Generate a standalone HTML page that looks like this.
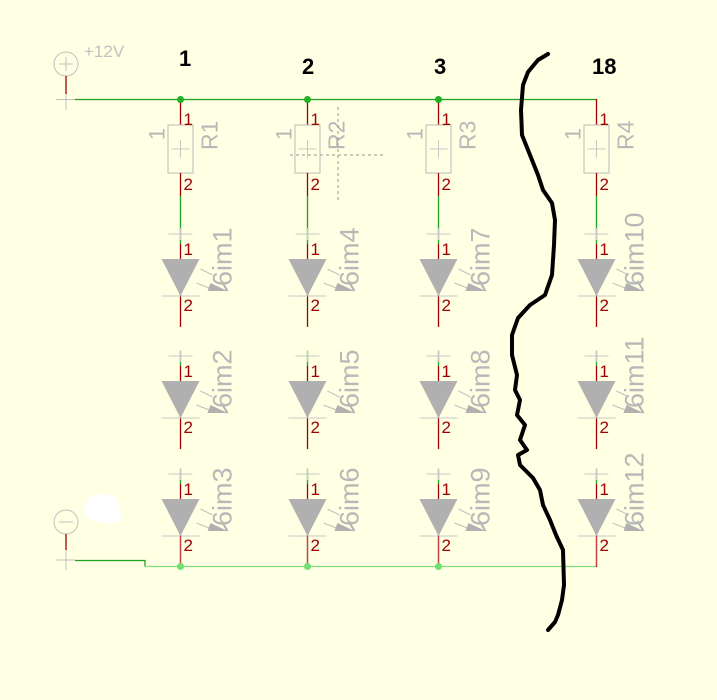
<!DOCTYPE html>
<html><head><meta charset="utf-8"><style>
html,body{margin:0;padding:0;background:#FFFFE3;}
svg{display:block;font-family:"Liberation Sans",sans-serif;}
</style></head><body>
<svg width="717" height="700" viewBox="0 0 717 700" xmlns="http://www.w3.org/2000/svg">
<defs>
<g id="col">
  <line x1="0" y1="99" x2="0" y2="125" stroke="#a00000" stroke-width="1.3"/>
  <rect x="-12.5" y="125" width="25" height="48" fill="none" stroke="#bbbbbb" stroke-width="1"/>
  <line x1="-9" y1="149" x2="9" y2="149" stroke="#c8c8c8"/>
  <line x1="0" y1="140" x2="0" y2="158" stroke="#c8c8c8"/>
  <line x1="0" y1="173" x2="0" y2="196" stroke="#a00000" stroke-width="1.3"/>
  <line x1="0" y1="196" x2="0" y2="230" stroke="#20a020" stroke-width="1.3"/>
  <text x="3" y="125" font-size="17" fill="#a00000">1</text>
  <text x="3" y="190" font-size="17" fill="#a00000">2</text>
  <text transform="translate(-16,134) rotate(-90)" font-size="22" fill="#b8b8b8" text-anchor="middle">1</text>
</g>
<g id="led">
  <line x1="0" y1="-30" x2="0" y2="-15" stroke="#20a020" stroke-width="1.3"/>
  <line x1="-12" y1="-25" x2="12" y2="-25" stroke="#c8c8c8"/>
  <line x1="0" y1="-31" x2="0" y2="-19" stroke="#c8c8c8"/>
  <line x1="0" y1="-15" x2="0" y2="68" stroke="#a00000" stroke-width="1.3"/>
  <polygon points="-19,0 19,0 0,37" fill="#b0b0b0"/>
  <line x1="-19" y1="37" x2="19" y2="37" stroke="#c8c8c8"/>
  <text x="3" y="-4" font-size="17" fill="#a00000">1</text>
  <text x="3" y="52" font-size="17" fill="#a00000">2</text>
  <line x1="20" y1="10" x2="32" y2="16" stroke="#c0c0c0"/>
  <line x1="16" y1="24" x2="34" y2="31" stroke="#c0c0c0"/>
  <polygon points="30,24 47,32 27,32" fill="#b0b0b0"/>
  <line x1="41" y1="22" x2="47" y2="32" stroke="#b0b0b0" stroke-width="2"/>
</g>
</defs>

<line x1="75" y1="99.5" x2="597" y2="99.5" stroke="#20a020" stroke-width="1.3"/>
<circle cx="66" cy="64" r="12" fill="none" stroke="#c0c0c0"/>
<line x1="59" y1="64" x2="73" y2="64" stroke="#c0c0c0"/>
<line x1="66" y1="57" x2="66" y2="71" stroke="#c0c0c0"/>
<line x1="66" y1="76" x2="66" y2="94" stroke="#a00000" stroke-width="1.3"/>
<line x1="56" y1="99.5" x2="75" y2="99.5" stroke="#c0c0c0"/>
<line x1="66" y1="94" x2="66" y2="110" stroke="#c0c0c0"/>
<text x="84" y="57" font-size="17" fill="#c0c0c0">+12V</text>

<circle cx="66" cy="522" r="12" fill="none" stroke="#c0c0c0"/>
<line x1="59" y1="522" x2="73" y2="522" stroke="#c0c0c0"/>
<line x1="66" y1="534" x2="66" y2="550" stroke="#a00000" stroke-width="1.3"/>
<line x1="56" y1="560" x2="75" y2="560" stroke="#c0c0c0"/>
<line x1="66" y1="550" x2="66" y2="570" stroke="#c0c0c0"/>
<path d="M88 500 Q92 492 104 495 Q118 493 120 505 L121 520 Q110 526 96 521 Q84 520 84 510 Z" fill="#ffffff"/>
<polyline points="75,560.5 145,560.5 145,566.5" fill="none" stroke="#20a020" stroke-width="1.3"/>
<line x1="145" y1="566.5" x2="597" y2="566.5" stroke="#80e080" stroke-width="1.3"/>

<g transform="translate(180.5,0)"><use href="#col"/>
  <text transform="translate(37,150) rotate(-90)" font-size="23" fill="#b8b8b8">R1</text>
  <use href="#led" transform="translate(0,259)"/><use href="#led" transform="translate(0,381)"/><use href="#led" transform="translate(0,499)"/>
  <line x1="0" y1="536" x2="0" y2="566" stroke="#cc4444" stroke-width="1.2"/>
  <text transform="translate(51,286) rotate(-90)" font-size="27" fill="#b8b8b8">6im1</text>
  <text transform="translate(51,408) rotate(-90)" font-size="27" fill="#b8b8b8">6im2</text>
  <text transform="translate(51,526) rotate(-90)" font-size="27" fill="#b8b8b8">6im3</text>
</g>
<g transform="translate(307.5,0)"><use href="#col"/>
  <text transform="translate(37,150) rotate(-90)" font-size="23" fill="#b8b8b8">R2</text>
  <use href="#led" transform="translate(0,259)"/><use href="#led" transform="translate(0,381)"/><use href="#led" transform="translate(0,499)"/>
  <line x1="0" y1="536" x2="0" y2="566" stroke="#cc4444" stroke-width="1.2"/>
  <text transform="translate(51,286) rotate(-90)" font-size="27" fill="#b8b8b8">6im4</text>
  <text transform="translate(51,408) rotate(-90)" font-size="27" fill="#b8b8b8">6im5</text>
  <text transform="translate(51,526) rotate(-90)" font-size="27" fill="#b8b8b8">6im6</text>
</g>
<line x1="290" y1="155" x2="383" y2="155" stroke="#999" stroke-dasharray="3,3"/>
<line x1="338" y1="107" x2="338" y2="203" stroke="#999" stroke-dasharray="3,3"/>
<g transform="translate(438.5,0)"><use href="#col"/>
  <text transform="translate(37,150) rotate(-90)" font-size="23" fill="#b8b8b8">R3</text>
  <use href="#led" transform="translate(0,259)"/><use href="#led" transform="translate(0,381)"/><use href="#led" transform="translate(0,499)"/>
  <line x1="0" y1="536" x2="0" y2="566" stroke="#cc4444" stroke-width="1.2"/>
  <text transform="translate(51,286) rotate(-90)" font-size="27" fill="#b8b8b8">6im7</text>
  <text transform="translate(51,408) rotate(-90)" font-size="27" fill="#b8b8b8">6im8</text>
  <text transform="translate(51,526) rotate(-90)" font-size="27" fill="#b8b8b8">6im9</text>
</g>
<g transform="translate(596.5,0)"><use href="#col"/>
  <text transform="translate(37,150) rotate(-90)" font-size="23" fill="#b8b8b8">R4</text>
  <use href="#led" transform="translate(0,259)"/><use href="#led" transform="translate(0,381)"/><use href="#led" transform="translate(0,499)"/>
  <line x1="0" y1="536" x2="0" y2="566" stroke="#cc4444" stroke-width="1.2"/>
  <text transform="translate(47,286) rotate(-90)" font-size="27" fill="#b8b8b8">6im10</text>
  <text transform="translate(47,408) rotate(-90)" font-size="27" fill="#b8b8b8">6im11</text>
  <text transform="translate(47,526) rotate(-90)" font-size="27" fill="#b8b8b8">6im12</text>
</g>

<circle cx="180.5" cy="99.5" r="3.5" fill="#20b020"/>
<circle cx="307.5" cy="99.5" r="3.5" fill="#20b020"/>
<circle cx="438.5" cy="99.5" r="3.5" fill="#20b020"/>
<circle cx="180.5" cy="566.5" r="3.5" fill="#70e070"/>
<circle cx="307.5" cy="566.5" r="3.5" fill="#70e070"/>
<circle cx="438.5" cy="566.5" r="3.5" fill="#70e070"/>

<g font-size="22" font-weight="bold" fill="#000">
<text x="179" y="66">1</text>
<text x="302" y="74">2</text>
<text x="434" y="74">3</text>
<text x="592" y="74">18</text>
</g>

<path d="M548,54 L538,60 L528,72 L523,85 L521,110 L522,135 L530,155 L538,175 L543,190 L552,203 L555,220 L554,245 L552,275 L545,295 L530,305 L518,318 L512,335 L512,355 L517,375 L515,390 L520,400 L517,415 L525,425 L520,440 L527,450 L518,455 L520,465 L533,478 L540,490 L543,505 L550,520 L556,535 L563,550 L564,585 L562,600 L558,615 L555,622 L548,630" fill="none" stroke="#000" stroke-width="4" stroke-linejoin="round" stroke-linecap="round"/>
</svg>
</body></html>
